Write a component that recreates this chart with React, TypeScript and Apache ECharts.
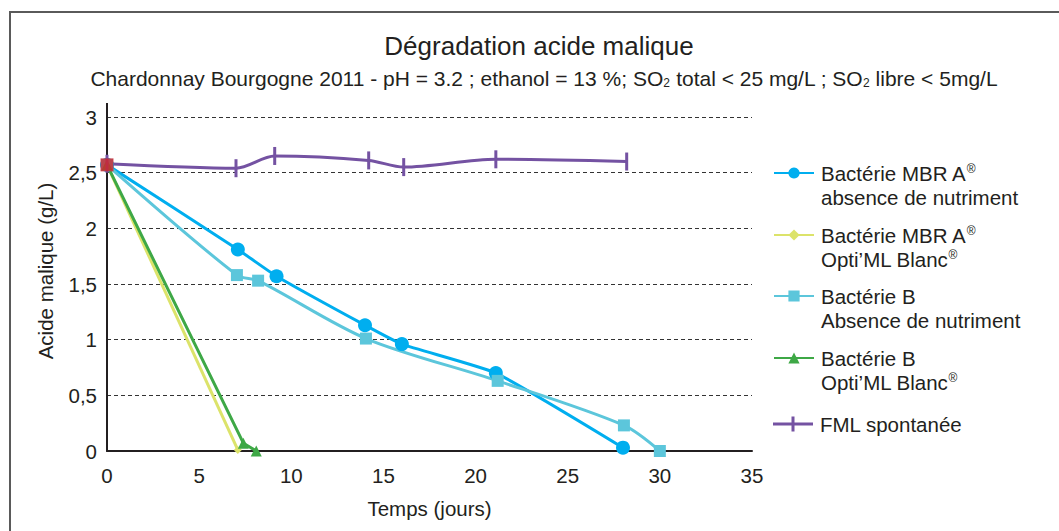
import React, { useEffect, useRef } from 'react';
import * as echarts from 'echarts';

// ---- Data ----
const xTicks = [0, 5, 10, 15, 20, 25, 30, 35];
const yTicks = [0, 0.5, 1, 1.5, 2, 2.5, 3];

const mbrAAbsDays = [0, 7.1, 9.2, 14, 16, 21.1, 28];
const mbrAAbsVals = [2.57, 1.81, 1.57, 1.13, 0.96, 0.7, 0.03];

const mbrAOptiDays = [0, 7.1];
const mbrAOptiVals = [2.57, 0.01];

const bAbsDays = [0, 7.05, 8.2, 14.05, 21.2, 28.05, 30];
const bAbsVals = [2.57, 1.58, 1.53, 1.01, 0.63, 0.23, 0];

const bOptiDays = [0, 7.4, 8.1];
const bOptiVals = [2.57, 0.07, 0];

const fmlDays = [0, 7, 9.1, 14.2, 16.1, 21.1, 28.2];
const fmlVals = [2.58, 2.54, 2.65, 2.61, 2.55, 2.62, 2.6];

const startDay = [0];
const startVal = [2.57];

const seriesNames = [
  'Bactérie MBR A® absence de nutriment',
  'Bactérie MBR A® Opti’ML Blanc®',
  'Bactérie B Absence de nutriment',
  'Bactérie B Opti’ML Blanc®',
  'FML spontanée',
];
const legendRich = [
  '{t|Bactérie MBR A}{s|®}\n{t|absence de nutriment}',
  '{t|Bactérie MBR A}{s|®}\n{t|Opti’ML Blanc}{s|®}',
  '{t|Bactérie B}\n{t|Absence de nutriment}',
  '{t|Bactérie B}\n{t|Opti’ML Blanc}{s|®}',
  '{t|FML spontanée}',
];
const colors = ['#00AEEF', '#DCE36A', '#5CC6DB', '#3EA846', '#7452A2'];

const zip = (xs: number[], ys: number[]) => xs.map((x, i) => [x, ys[i]]);

const FONT = 'Liberation Sans, Arial, Helvetica, sans-serif';
const TXT = '#231F20';
const FS = 20.5;

const FML_ICON =
  'path://M0,6L18.5,6L18.5,0L21.5,0L21.5,6L40,6L40,9L21.5,9L21.5,15L18.5,15L18.5,9L0,9Z';

export default function App() {
  const ref = useRef<HTMLDivElement>(null);
  useEffect(() => {
    if (!ref.current) return;
    const chart = echarts.init(ref.current, null, { renderer: 'svg' });

    const legendTops = [137, 199, 260, 322, 412];
    const legends = seriesNames.map((name, i) => ({
      data: i === 4 ? [{ name, icon: FML_ICON }] : [name],
      left: 773,
      top: legendTops[i],
      orient: 'vertical',
      itemWidth: 40,
      itemHeight: i === 4 ? 15 : 14,
      itemGap: 0,
      padding: 0,
      selectedMode: false,
      formatter: () => legendRich[i],
      textStyle: {
        fontFamily: FONT,
        fontSize: FS,
        color: TXT,
        lineHeight: 24,
        padding: i < 4 ? [24, 0, 0, 2] : [0, 0, 0, 2],
        rich: {
          t: { fontFamily: FONT, fontSize: FS, color: TXT, lineHeight: 24 },
          s: { fontFamily: FONT, fontSize: 12, color: TXT, padding: [0, 0, 9, 0] },
        },
      },
    }));

    const base = { type: 'line', lineStyle: { width: 3 }, z: 3 };

    chart.setOption({
      animation: false,
      backgroundColor: '#ffffff',
      grid: { left: 107, right: 307, top: 117, bottom: 80, containLabel: false },
      xAxis: {
        type: 'value',
        min: 0,
        max: 35,
        interval: 5,
        name: 'Temps (jours)',
        nameLocation: 'middle',
        nameGap: 47,
        nameTextStyle: { fontFamily: FONT, fontSize: FS, color: TXT },
        axisLine: { lineStyle: { color: '#231F20', width: 2 } },
        axisTick: { show: false },
        splitLine: { show: false },
        axisLabel: { fontFamily: FONT, fontSize: FS, color: TXT, margin: 14 },
      },
      yAxis: {
        type: 'value',
        min: 0,
        max: 3,
        interval: 0.5,
        axisLine: { show: true, lineStyle: { color: '#231F20', width: 2 } },
        axisTick: { show: false },
        splitLine: { lineStyle: { color: '#333333', width: 1.2, type: [4, 3] } },
        axisLabel: {
          fontFamily: FONT,
          fontSize: FS,
          color: TXT,
          margin: 10,
          formatter: (v: number) => (yTicks.includes(v) ? String(v).replace('.', ',') : ''),
        },
      },
      legend: legends,
      graphic: [
        {
          type: 'rect',
          shape: { x: 10, y: 12, width: 1100, height: 600 },
          style: { fill: 'none', stroke: '#5a5a5a', lineWidth: 2 },
          silent: true,
        },
        {
          type: 'line',
          shape: { x1: 107, y1: 103, x2: 107, y2: 118 },
          style: { stroke: '#231F20', lineWidth: 2 },
        },
        {
          type: 'text',
          x: 45,
          y: 271,
          rotation: Math.PI / 2,
          style: {
            text: 'Acide malique (g/L)',
            font: `${FS}px ${FONT}`,
            fill: TXT,
            textAlign: 'center',
            textVerticalAlign: 'middle',
          },
        },
        {
          type: 'text',
          x: 539,
          y: 46,
          style: {
            text: 'Dégradation acide malique',
            font: `26px ${FONT}`,
            fill: TXT,
            textAlign: 'center',
            textVerticalAlign: 'middle',
          },
        },
        {
          type: 'text',
          x: 544,
          y: 78,
          style: {
            text: '{t|Chardonnay Bourgogne 2011 - pH = 3.2 ; ethanol = 13 %; SO}{s|2}{t| total < 25 mg/L ; SO}{s|2}{t| libre < 5mg/L}',
            textAlign: 'center',
            textVerticalAlign: 'middle',
            rich: {
              t: { fontFamily: FONT, fontSize: 21, fill: TXT, color: TXT },
              s: { fontFamily: FONT, fontSize: 12, fill: TXT, color: TXT, padding: [10, 0, 0, 0] },
            },
          },
        },
      ],
      series: [
        {
          ...base,
          name: seriesNames[0],
          data: zip(mbrAAbsDays, mbrAAbsVals),
          color: colors[0],
          symbol: 'circle',
          symbolSize: 14,
          smooth: 0.15,
        },
        {
          ...base,
          name: seriesNames[1],
          data: zip(mbrAOptiDays, mbrAOptiVals),
          color: colors[1],
          symbol: 'diamond',
          symbolSize: 8,
        },
        {
          ...base,
          name: seriesNames[2],
          data: zip(bAbsDays, bAbsVals),
          color: colors[2],
          symbol: 'rect',
          symbolSize: 12,
          smooth: 0.3,
        },
        {
          ...base,
          name: seriesNames[3],
          data: zip(bOptiDays, bOptiVals),
          color: colors[3],
          symbol: 'triangle',
          symbolSize: 11,
        },
        {
          ...base,
          name: seriesNames[4],
          data: zip(fmlDays, fmlVals),
          color: colors[4],
          symbol: 'rect',
          symbolSize: [3, 18],
          smooth: 0.3,
        },
        {
          type: 'scatter',
          name: 'start',
          data: zip(startDay, startVal),
          symbol: 'rect',
          symbolSize: 13,
          itemStyle: { color: '#D2232A' },
          z: 5,
        },
      ],
    });
    return () => chart.dispose();
  }, []);
  return (
    <div
      ref={ref}
      style={{ position: 'fixed', left: 0, top: 0, width: 1059, height: 531, background: '#fff' }}
    />
  );
}
